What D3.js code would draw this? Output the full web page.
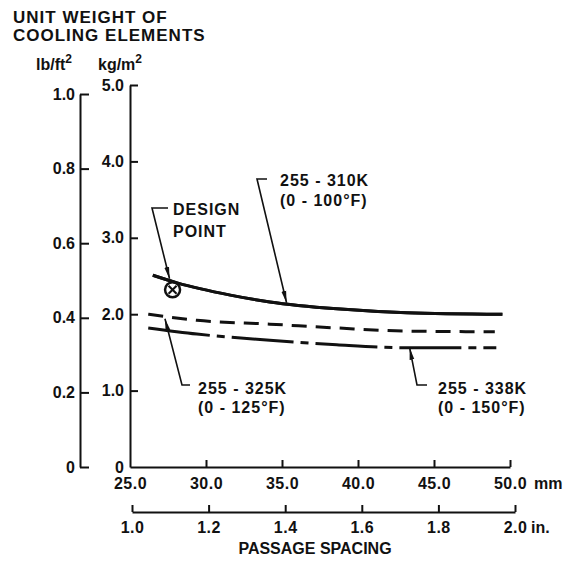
<!DOCTYPE html>
<html><head><meta charset="utf-8">
<script src="https://cdn.jsdelivr.net/npm/d3@7"></script>
<style>
html,body{margin:0;padding:0;background:#fff;}
svg text{font-family:"Liberation Sans",Arial,Helvetica,sans-serif;font-weight:bold;fill:#111;}
</style></head><body>
<svg id="c" width="578" height="565"></svg>
<script>
// ---- data ----
const titleLines = ["UNIT WEIGHT OF", "COOLING ELEMENTS"];
const kgTicks = [0, 1, 2, 3, 4, 5];
const lbTicks = [0, 0.2, 0.4, 0.6, 0.8, 1.0];
const mmTicks = [25, 30, 35, 40, 45, 50];
const inTicks = [1.0, 1.2, 1.4, 1.6, 1.8, 2.0];
// passage spacing (mm) vs unit weight (kg/m^2)
const mm310 = [26.5, 28.1, 31.6, 34.2, 38.6, 43.2, 49.5];
const kg310 = [2.51, 2.41, 2.25, 2.16, 2.07, 2.02, 2.00];
const mm325 = [26.2, 29.4, 34.2, 38.6, 43.0, 49.0];
const kg325 = [2.00, 1.92, 1.87, 1.82, 1.78, 1.77];
const mm338 = [26.2, 29.4, 34.2, 38.6, 43.4, 49.1];
const kg338 = [1.82, 1.74, 1.66, 1.60, 1.56, 1.56];
const designPoint = [27.8, 2.32];
const labels310 = ["255 - 310K", "(0 - 100°F)"];
const labels325 = ["255 - 325K", "(0 - 125°F)"];
const labels338 = ["255 - 338K", "(0 - 150°F)"];
const designLabel = ["DESIGN", "POINT"];
const LB_TO_KG = 4.882;

// ---- layout ----
const svg = d3.select("#c");
const x = d3.scaleLinear().domain([25, 50]).range([130, 510]);
const xIn = d3.scaleLinear().domain([1, 2]).range([132, 515]);
const y = d3.scaleLinear().domain([0, 5]).range([467, 85]);
const yLb = d3.scaleLinear().domain([0, 1]).range([y(0), y(LB_TO_KG)]);
const fmt = v => v === 0 ? "0" : d3.format(".1f")(v);

svg.append("defs").append("marker")
  .attr("id", "ah").attr("viewBox", "0 0 12 6").attr("refX", 12).attr("refY", 3)
  .attr("markerWidth", 12).attr("markerHeight", 6).attr("markerUnits", "userSpaceOnUse")
  .attr("orient", "auto")
  .append("path").attr("d", "M0,0.6 L12,3 L0,5.4 Z").attr("fill", "#111");

// title
titleLines.forEach((t, i) => svg.append("text").attr("x", 13).attr("y", 23 + i * 18)
  .attr("font-size", 17).attr("letter-spacing", 1).text(t));

// unit labels
function unitLabel(xp, base, sup) {
  const t = svg.append("text").attr("x", xp).attr("y", 70).attr("font-size", 16);
  t.append("tspan").text(base);
  t.append("tspan").attr("font-size", 12).attr("dy", -7).text(sup);
}
unitLabel(36, "lb/ft", "2");
unitLabel(98, "kg/m", "2");

function styleAxis(g, labelDx, anchor) {
  g.select(".domain").attr("stroke", "#111").attr("stroke-width", 2);
  g.selectAll(".tick line").attr("stroke", "#111").attr("stroke-width", 2);
  g.selectAll(".tick text").attr("font-size", 16).attr("fill", "#111")
    .attr("font-family", null);
}

// lb axis
const gLb = svg.append("g").attr("transform", "translate(80,0)")
  .call(d3.axisRight(yLb).tickValues(lbTicks).tickFormat(fmt).tickSize(9).tickSizeOuter(0));
styleAxis(gLb);
gLb.selectAll(".tick text").attr("x", -5).attr("text-anchor", "end");

// kg axis
const gKg = svg.append("g").attr("transform", `translate(${x(25)},0)`)
  .call(d3.axisRight(y).tickValues(kgTicks).tickFormat(fmt).tickSize(8).tickSizeOuter(0));
styleAxis(gKg);
gKg.selectAll(".tick text").attr("x", -6).attr("text-anchor", "end");
gKg.selectAll(".tick").filter(d => d === 0).select("line").remove();

// mm axis
const gMm = svg.append("g").attr("transform", `translate(0,${y(0)})`)
  .call(d3.axisTop(x).tickValues(mmTicks).tickFormat(d => d3.format(".1f")(d)).tickSize(7).tickSizeOuter(0));
styleAxis(gMm);
gMm.selectAll(".tick text").attr("y", 22).attr("dy", 0).attr("letter-spacing", 0.5);
gMm.selectAll(".tick").filter(d => d === 25).select("line").remove();
svg.append("text").attr("x", x(50) + 24).attr("y", y(0) + 22).attr("font-size", 16).text("mm");

// inch axis
const inY = 512;
const gIn = svg.append("g").attr("transform", `translate(0,${inY})`)
  .call(d3.axisTop(xIn).tickValues(inTicks).tickFormat(d => d3.format(".1f")(d)).tickSize(7).tickSizeOuter(0));
styleAxis(gIn);
gIn.selectAll(".tick text").attr("y", 21).attr("dy", 0).attr("letter-spacing", 0.5);
svg.append("text").attr("x", xIn(2) + 16).attr("y", inY + 21).attr("font-size", 16).text("in.");

svg.append("text").attr("x", 315).attr("y", 554).attr("text-anchor", "middle")
  .attr("font-size", 16).text("PASSAGE SPACING");

// curves
const line = d3.line().x(d => x(d[0])).y(d => y(d[1])).curve(d3.curveMonotoneX);
const series = [
  { xs: mm310, ys: kg310, dash: null },
  { xs: mm325, ys: kg325, dash: "15,9" },
  { xs: mm338, ys: kg338, dash: "62,7,8,7" }
];
series.forEach(s => {
  svg.append("path").datum(s.xs.map((v, i) => [v, s.ys[i]]))
    .attr("d", line).attr("fill", "none").attr("stroke", "#111")
    .attr("stroke-width", 3).attr("stroke-dasharray", s.dash);
});

// design point marker
const dpx = x(designPoint[0]), dpy = y(designPoint[1]);
svg.append("circle").attr("cx", dpx).attr("cy", dpy).attr("r", 7.5)
  .attr("fill", "#fff").attr("stroke", "#111").attr("stroke-width", 2.5);
[[-1, -1, 1, 1], [-1, 1, 1, -1]].forEach(c => svg.append("line")
  .attr("x1", dpx + c[0] * 4).attr("y1", dpy + c[1] * 4)
  .attr("x2", dpx + c[2] * 4).attr("y2", dpy + c[3] * 4)
  .attr("stroke", "#111").attr("stroke-width", 2.2));
// redraw solid curve over circle top edge
svg.append("path").datum(mm310.map((v, i) => [v, kg310[i]]))
  .attr("d", line).attr("fill", "none").attr("stroke", "#111").attr("stroke-width", 3);

// annotations
function leader(pts, arrow) {
  svg.append("path").attr("d", d3.line()(pts)).attr("fill", "none")
    .attr("stroke", "#111").attr("stroke-width", 1.6)
    .attr("marker-end", arrow ? "url(#ah)" : null);
}
function textBlock(lines, xp, yp, gap) {
  lines.forEach((t, i) => svg.append("text").attr("x", xp).attr("y", yp + i * gap)
    .attr("font-size", 16).attr("letter-spacing", 1).text(t));
}
// design point
leader([[168, 208], [152, 208], [dpx - 3, dpy - 11]], true);
textBlock(designLabel, 173, 215, 22);
// 255-310K
const a310 = [35.3, 2.15];
leader([[267, 179], [257, 179], [x(a310[0]), y(a310[1])]], true);
textBlock(labels310, 280, 186, 20);
// 255-325K
const a325 = [27.3, 1.94];
leader([[190, 385], [182, 385], [x(a325[0]), y(a325[1]) ]], true);
textBlock(labels325, 198, 394, 19);
// 255-338K
const a338 = [43.4, 1.56];
leader([[427, 385], [417, 385], [x(a338[0]), y(a338[1]) ]], true);
textBlock(labels338, 438, 394, 19);
</script></body></html>
